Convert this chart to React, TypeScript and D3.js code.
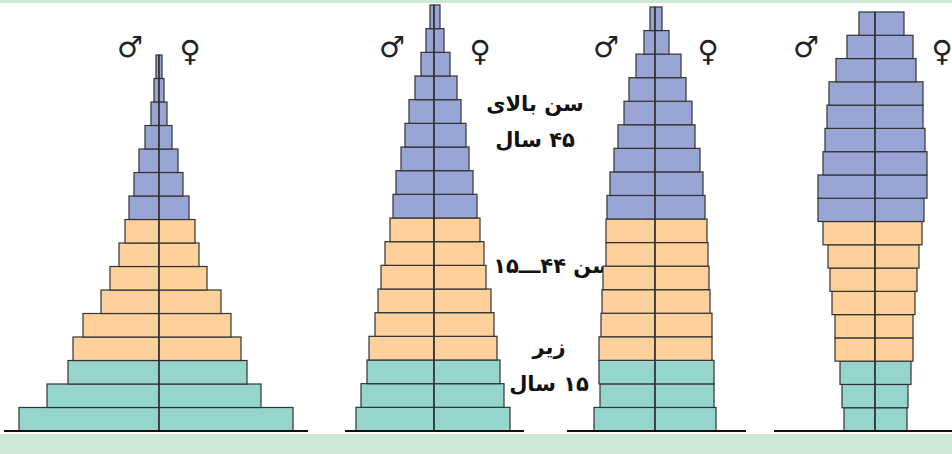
import * as d3 from "d3";
import { useEffect, useRef } from "react";

// age groups, youngest first
const ages16 = ["0-4", "5-9", "10-14", "15-19", "20-24", "25-29", "30-34", "35-39", "40-44", "45-49", "50-54", "55-59", "60-64", "65-69", "70-74", "75+"];
const ages18 = ["0-4", "5-9", "10-14", "15-19", "20-24", "25-29", "30-34", "35-39", "40-44", "45-49", "50-54", "55-59", "60-64", "65-69", "70-74", "75-79", "80-84", "85+"];

// share of population (%), youngest first
const male1 = [7.0, 5.6, 4.55, 4.3, 3.8, 2.9, 2.45, 2.0, 1.7, 1.5, 1.25, 1.0, 0.7, 0.4, 0.25, 0.15];
const female1 = [6.7, 5.1, 4.4, 4.1, 3.6, 3.1, 2.4, 2.0, 1.8, 1.5, 1.2, 0.95, 0.65, 0.4, 0.25, 0.15];

const male2 = [3.9, 3.65, 3.35, 3.25, 2.95, 2.8, 2.65, 2.45, 2.2, 2.05, 1.9, 1.65, 1.45, 1.25, 0.95, 0.65, 0.4, 0.2];
const female2 = [3.8, 3.5, 3.3, 3.15, 3.0, 2.85, 2.6, 2.5, 2.3, 2.15, 1.95, 1.75, 1.6, 1.35, 1.15, 0.8, 0.5, 0.3];

const male3 = [3.05, 2.75, 2.8, 2.8, 2.7, 2.65, 2.6, 2.45, 2.45, 2.4, 2.25, 2.05, 1.85, 1.55, 1.3, 0.95, 0.55, 0.25];
const female3 = [3.05, 2.95, 2.95, 2.85, 2.85, 2.75, 2.7, 2.65, 2.6, 2.5, 2.4, 2.25, 2.0, 1.85, 1.55, 1.3, 0.7, 0.35];

const male4 = [1.55, 1.65, 1.75, 2.0, 2.0, 2.15, 2.25, 2.35, 2.6, 2.85, 2.85, 2.6, 2.5, 2.4, 2.3, 1.95, 1.4, 0.8];
const female4 = [1.6, 1.65, 1.8, 1.9, 1.9, 2.0, 2.1, 2.2, 2.35, 2.45, 2.6, 2.6, 2.5, 2.4, 2.4, 2.05, 1.9, 1.45];

// label lines (rtl)
const labelOld = ["سن بالای", "۴۵ سال"];
const labelMid = ["سن ۴۴ـــ۱۵"];
const labelYoung = ["زیر", "۱۵ سال"];

const W = 952;
const H = 454;
const BASE = 431;

const TEAL = "#96d4ce";
const ORANGE = "#fdd09c";
const BLUE = "#99a5d5";
const BAND = "#cde8d5";

const panels = [
  { ages: ages16, male: male1, female: female1, cx: 159, top: 55, line: [4, 308], mDx: -29, fDx: 31 },
  { ages: ages18, male: male2, female: female2, cx: 434, top: 5, line: [345, 524], mDx: -42, fDx: 46 },
  { ages: ages18, male: male3, female: female3, cx: 655, top: 7, line: [567, 746], mDx: -49, fDx: 53 },
  { ages: ages18, male: male4, female: female4, cx: 875, top: 12, line: [774, 952], mDx: -69, fDx: 67 },
];

function groupColor(i: number) {
  if (i < 3) return TEAL;
  if (i < 9) return ORANGE;
  return BLUE;
}

export default function App() {
  const svgRef = useRef<SVGSVGElement>(null);

  useEffect(() => {
    if (!svgRef.current) return;
    const svg = d3.select(svgRef.current);
    svg.selectAll("*").remove();

    // green bands
    svg.append("rect").attr("x", 0).attr("y", 0).attr("width", W).attr("height", 3).attr("fill", BAND);
    svg.append("rect").attr("x", 0).attr("y", 434).attr("width", W).attr("height", H - 434).attr("fill", BAND);

    // group labels
    const labels = svg
      .append("g")
      .attr("font-family", "'DejaVu Sans', sans-serif")
      .attr("font-weight", "bold")
      .attr("font-size", 21)
      .attr("fill", "#111")
      .attr("text-anchor", "middle")
      .attr("direction", "rtl");
    const addLines = (lines: string[], x: number, y0: number, dy: number) => {
      lines.forEach((t, i) => {
        labels
          .append("text")
          .attr("x", x)
          .attr("y", y0 + i * dy)
          .style("direction", "rtl")
          .style("unicode-bidi", "embed")
          .text(t);
      });
    };
    addLines(labelOld, 535, 111, 36);
    addLines(labelMid, 553, 273, 0);
    addLines(labelYoung, 549, 354, 37);

    const x = d3.scaleLinear().domain([0, 7]).range([0, 140]);

    panels.forEach((p) => {
      const y = d3.scaleBand<string>().domain(p.ages).range([BASE, p.top]);
      const g = svg.append("g");
      const rows = p.ages.map((a, i) => ({ age: a, i, m: p.male[i], f: p.female[i] }));

      g.selectAll(".male")
        .data(rows)
        .enter()
        .append("rect")
        .attr("x", (d) => p.cx - x(d.m))
        .attr("y", (d) => y(d.age)!)
        .attr("width", (d) => x(d.m))
        .attr("height", y.bandwidth())
        .attr("fill", (d) => groupColor(d.i))
        .attr("stroke", "#333")
        .attr("stroke-width", 1.2);

      g.selectAll(".female")
        .data(rows)
        .enter()
        .append("rect")
        .attr("x", p.cx)
        .attr("y", (d) => y(d.age)!)
        .attr("width", (d) => x(d.f))
        .attr("height", y.bandwidth())
        .attr("fill", (d) => groupColor(d.i))
        .attr("stroke", "#333")
        .attr("stroke-width", 1.2);

      // centre line
      g.append("line")
        .attr("x1", p.cx)
        .attr("x2", p.cx)
        .attr("y1", p.top)
        .attr("y2", BASE + 1)
        .attr("stroke", "#333")
        .attr("stroke-width", 1.3);

      // ground line
      g.append("line")
        .attr("x1", p.line[0])
        .attr("x2", p.line[1])
        .attr("y1", BASE)
        .attr("y2", BASE)
        .attr("stroke", "#111")
        .attr("stroke-width", 1.8);

      // sex symbols
      g.append("text")
        .attr("x", p.cx + p.mDx)
        .attr("y", 57)
        .attr("text-anchor", "middle")
        .attr("font-family", "'DejaVu Sans', sans-serif")
        .attr("font-size", 29)
        .attr("fill", "#222")
        .text("♂");
      g.append("text")
        .attr("x", p.cx + p.fDx)
        .attr("y", 61)
        .attr("text-anchor", "middle")
        .attr("font-family", "'DejaVu Sans', sans-serif")
        .attr("font-size", 29)
        .attr("fill", "#222")
        .text("♀");
    });
  }, []);

  return (
    <svg
      ref={svgRef}
      width={W}
      height={H}
      style={{ position: "absolute", left: 0, top: 0, background: "#fff" }}
    ></svg>
  );
}
